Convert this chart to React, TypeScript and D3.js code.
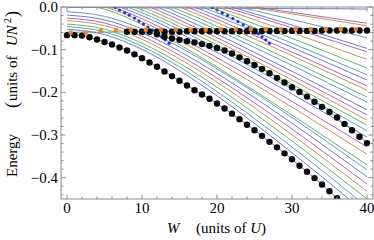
import React from "react";
import * as d3 from "d3";

// ---- data ----
const W_GRID = [0, 5, 10, 15, 20, 25, 30, 35, 40];

// levels entering from above the plot range (values at W_GRID)
const enteringLevels: number[][] = [
  [0.045, 0.0418, 0.034, 0.0236, 0.0121, 0, -0.0125, -0.0252, -0.038],
  [0.0462, 0.0428, 0.0343, 0.023, 0.0105, -0.0027, -0.0162, -0.03, -0.044],
  [0.0672, 0.062, 0.0488, 0.0314, 0.0121, -0.0082, -0.0292, -0.0505, -0.072],
  [0.0806, 0.0739, 0.057, 0.0349, 0.0103, -0.0157, -0.0424, -0.0695, -0.097],
  [0.0775, 0.0706, 0.0533, 0.0306, 0.0053, -0.0214, -0.0488, -0.0768, -0.105],
  [0.0806, 0.0729, 0.0536, 0.0282, 0, -0.0298, -0.0604, -0.0915, -0.123],
  [0.083, 0.0745, 0.053, 0.0249, -0.0064, -0.0395, -0.0735, -0.108, -0.143],
  [0.0816, 0.0725, 0.0497, 0.0197, -0.0136, -0.0488, -0.085, -0.1218, -0.159],
  [0.0773, 0.0679, 0.0444, 0.0134, -0.021, -0.0573, -0.0946, -0.1326, -0.171],
  [0.0734, 0.0636, 0.0391, 0.007, -0.0289, -0.0667, -0.1055, -0.145, -0.185],
  [0.0675, 0.0576, 0.0327, 0, -0.0364, -0.0748, -0.1142, -0.1544, -0.195],
  [0.0632, 0.0529, 0.0269, -0.0073, -0.0453, -0.0854, -0.1266, -0.1686, -0.211],
  [0.0575, 0.0469, 0.0203, -0.0146, -0.0535, -0.0946, -0.1367, -0.1796, -0.223],
  [0.0529, 0.0418, 0.0139, -0.0227, -0.0634, -0.1064, -0.1506, -0.1955, -0.241],
  [0.0467, 0.0354, 0.007, -0.0303, -0.0719, -0.1158, -0.1608, -0.2066, -0.253],
  [0.0405, 0.029, 0, -0.0381, -0.0804, -0.1251, -0.171, -0.2177, -0.265],
  [0.0344, 0.0226, -0.0069, -0.0457, -0.0888, -0.1344, -0.1812, -0.2288, -0.277],
  [0.0287, 0.0166, -0.0136, -0.0533, -0.0974, -0.1441, -0.1919, -0.2407, -0.29],
  [0.0232, 0.0108, -0.0203, -0.0612, -0.1067, -0.1547, -0.204, -0.2542, -0.305],
  [0.0184, 0.0053, -0.0275, -0.0707, -0.1187, -0.1694, -0.2214, -0.2744, -0.328],
  [0.0135, 0, -0.034, -0.0786, -0.1284, -0.1808, -0.2347, -0.2896, -0.345],
  [0.0094, -0.005, -0.0409, -0.0882, -0.1408, -0.1963, -0.2533, -0.3113, -0.37],
];

// levels visible from W = 0 (values at W_GRID)
const bandLevels: number[][] = [
  [-0.052, -0.0647, -0.0993, -0.149, -0.2082, -0.273, -0.3416, -0.4125, -0.485],
  [-0.046, -0.0583, -0.0921, -0.1405, -0.1982, -0.2614, -0.3282, -0.3973, -0.468],
  [-0.04, -0.052, -0.0848, -0.1318, -0.1879, -0.2493, -0.3142, -0.3814, -0.45],
  [-0.032, -0.0437, -0.0757, -0.1216, -0.1763, -0.2362, -0.2995, -0.365, -0.432],
  [-0.026, -0.0374, -0.0685, -0.1131, -0.1663, -0.2245, -0.2861, -0.3498, -0.415],
  [-0.019, -0.0301, -0.0604, -0.1039, -0.1557, -0.2124, -0.2724, -0.3345, -0.398],
  [-0.011, -0.0218, -0.0515, -0.0941, -0.1448, -0.2003, -0.2591, -0.3198, -0.382],
];

const flatTopLevel = [-0.001, -0.001, -0.002, -0.002, -0.003, -0.003, -0.004, -0.004, -0.005];
const flatRowLevel = [-0.059, -0.059, -0.058, -0.058, -0.057, -0.057, -0.056, -0.056, -0.055];

// ground state (black dots + line), W = 0..37
const groundW = [0,1,2,3,4,5,6,7,8,9,10,11,12,13,14,15,16,17,18,19,20,21,22,23,24,25,26,27,28,29,30,31,32,33,34,35,36,37];
const groundE = [-0.066,-0.066,-0.067,-0.071,-0.076,-0.082,-0.088,-0.095,-0.102,-0.111,-0.12,-0.13,-0.14,-0.151,-0.162,-0.173,-0.184,-0.195,-0.205,-0.215,-0.226,-0.238,-0.25,-0.263,-0.276,-0.289,-0.302,-0.316,-0.329,-0.343,-0.357,-0.372,-0.386,-0.401,-0.416,-0.432,-0.448,-0.464];

// flat row of black dots
const rowW = [8,9,10,11,12,13,14,15,16,17,18,19,20,21,22,23,24,25,26,27,28,29,30,31,32,33,34,35,36,37,38,39,40];
const rowE = [-0.058,-0.058,-0.058,-0.058,-0.058,-0.058,-0.058,-0.058,-0.057,-0.057,-0.057,-0.057,-0.057,-0.057,-0.057,-0.057,-0.057,-0.057,-0.056,-0.056,-0.056,-0.056,-0.056,-0.056,-0.056,-0.056,-0.055,-0.055,-0.055,-0.055,-0.055,-0.055,-0.055];

// second branch of black dots
const branchW = [12,13,14,15,16,17,18,19,20,21,22,23,24,25,26,27,28,29,30,31,32,33,34,35,36,37,38,39,40];
const branchE = [-0.064,-0.07,-0.074,-0.077,-0.08,-0.083,-0.087,-0.091,-0.096,-0.102,-0.109,-0.118,-0.127,-0.136,-0.145,-0.155,-0.166,-0.177,-0.188,-0.199,-0.21,-0.222,-0.234,-0.246,-0.259,-0.274,-0.289,-0.304,-0.319];
const branchLineW = [8, 9, 10, 11];
const branchLineE = [-0.058, -0.058, -0.059, -0.061];

// orange squares
const orangeW = [0.5,2.5,4.5,6.5,8.5,10.5,12.5,14.5,16.5,18.5,20.5,22.5,24.5,26.5,28.5,30.5,32.5,34.5,36.5,38.5];
const orangeE = [-0.06,-0.06,-0.056,-0.054,-0.053,-0.053,-0.053,-0.053,-0.053,-0.053,-0.052,-0.052,-0.052,-0.052,-0.052,-0.052,-0.052,-0.052,-0.052,-0.052];

// blue points (two steep branches)
const blueAW = [6.4,7.0,7.7,8.3,9.0,9.6,10.2,10.8,11.4,12.0,12.6,13.1,13.6];
const blueAE = [-0.001,-0.007,-0.013,-0.019,-0.026,-0.033,-0.04,-0.047,-0.054,-0.062,-0.07,-0.077,-0.085];
const blueBW = [19.4,20.0,20.7,21.4,22.1,22.8,23.5,24.2,24.9,25.5,26.0,26.5,27.0];
const blueBE = [-0.001,-0.007,-0.014,-0.02,-0.027,-0.034,-0.041,-0.048,-0.056,-0.063,-0.07,-0.077,-0.085];

const xMajor = [0, 10, 20, 30, 40];
const yMajor = [0, -0.1, -0.2, -0.3, -0.4];

const PALETTE = ["#5a6cc0", "#a855a8", "#b88a4a", "#55aa60", "#4f94b0"];

export default function App() {
  const left = 61, right = 373, top = 7, bottom = 199;
  const x = d3.scaleLinear().domain([-0.8, 40.8]).range([left, right]);
  const y = d3.scaleLinear().domain([-0.45, 0]).range([bottom, top]);

  const line = d3
    .line<[number, number]>()
    .x((d) => x(d[0]))
    .y((d) => y(d[1]))
    .curve(d3.curveMonotoneX);

  const gridSeries = [flatTopLevel, ...enteringLevels, flatRowLevel, ...bandLevels]
    .map((vals) => vals.map((v, i) => [W_GRID[i], v] as [number, number]))
    .sort((a, b) => b[8][1] - a[8][1]);

  const groundPts = groundW.map((w, i) => [w, groundE[i]] as [number, number]);
  const branchPts = [
    ...branchLineW.map((w, i) => [w, branchLineE[i]] as [number, number]),
    ...branchW.map((w, i) => [w, branchE[i]] as [number, number]),
  ];

  const xMinor = d3.range(0, 41, 2).filter((v) => v % 10 !== 0);
  const yMinor = d3.range(-44, 1, 2).map((v) => v / 100).filter((v) => Math.abs(Math.round(v * 100)) % 10 !== 0);
  const fmt = d3.format(".1f");
  const frame = "#8c8c8c";
  const font = "'Liberation Serif', 'Times New Roman', serif";
  const R = 3.2;

  return (
    <svg width={374} height={240} style={{ position: "absolute", left: 0, top: 0, background: "#fff" }} fontFamily={font}>
      <defs>
        <clipPath id="plot">
          <rect x={left} y={top} width={right - left} height={bottom - top} />
        </clipPath>
      </defs>
      <g clipPath="url(#plot)">
        {gridSeries.map((pts, i) => (
          <path key={i} d={line(pts) || ""} fill="none" stroke={PALETTE[i % 5]} strokeWidth={0.9} />
        ))}
        <path d={line(branchPts) || ""} fill="none" stroke="#4f94b0" strokeWidth={0.9} />
        <path d={line(groundPts) || ""} fill="none" stroke="#5a6cc0" strokeWidth={0.9} />
        {blueAW.map((w, i) => (
          <circle key={"ba" + i} cx={x(w)} cy={y(blueAE[i])} r={1.6} fill="#1f2fe8" />
        ))}
        {blueBW.map((w, i) => (
          <circle key={"bb" + i} cx={x(w)} cy={y(blueBE[i])} r={1.6} fill="#1f2fe8" />
        ))}
        {groundW.map((w, i) => (
          <circle key={"g" + i} cx={x(w)} cy={y(groundE[i])} r={R} fill="#0a0a0a" />
        ))}
        {rowW.map((w, i) => (
          <circle key={"r" + i} cx={x(w)} cy={y(rowE[i])} r={R} fill="#0a0a0a" />
        ))}
        {branchW.map((w, i) => (
          <circle key={"b" + i} cx={x(w)} cy={y(branchE[i])} r={R} fill="#0a0a0a" />
        ))}
        {orangeW.map((w, i) => (
          <rect key={"o" + i} x={x(w) - 2} y={y(orangeE[i]) - 2} width={4} height={4} fill="#f0821e" />
        ))}
      </g>
      {/* frame */}
      <rect x={left} y={top} width={right - left} height={bottom - top} fill="none" stroke={frame} strokeWidth={1} />
      {xMajor.map((v) => (
        <g key={"xm" + v}>
          <line x1={x(v)} x2={x(v)} y1={bottom} y2={bottom - 4.5} stroke={frame} />
          <line x1={x(v)} x2={x(v)} y1={top} y2={top + 4.5} stroke={frame} />
          <text x={x(v)} y={213} fontSize={15} textAnchor="middle" fill="#000">{v}</text>
        </g>
      ))}
      {xMinor.map((v) => (
        <g key={"xn" + v}>
          <line x1={x(v)} x2={x(v)} y1={bottom} y2={bottom - 2.5} stroke={frame} />
          <line x1={x(v)} x2={x(v)} y1={top} y2={top + 2.5} stroke={frame} />
        </g>
      ))}
      {yMajor.map((v) => (
        <g key={"ym" + v}>
          <line x1={left} x2={left + 4.5} y1={y(v)} y2={y(v)} stroke={frame} />
          <line x1={right} x2={right - 4.5} y1={y(v)} y2={y(v)} stroke={frame} />
          <text x={58} y={y(v) + 5} fontSize={15} textAnchor="end" fill="#000">{fmt(v)}</text>
        </g>
      ))}
      {yMinor.map((v) => (
        <g key={"yn" + v}>
          <line x1={left} x2={left + 2.5} y1={y(v)} y2={y(v)} stroke={frame} />
          <line x1={right} x2={right - 2.5} y1={y(v)} y2={y(v)} stroke={frame} />
        </g>
      ))}
      {/* axis labels */}
      <text x={167} y={233} fontSize={15} fontStyle="italic" fill="#000">W</text>
      <text x={196} y={233} fontSize={15} fill="#000">
        (units of <tspan fontStyle="italic">U</tspan>)
      </text>
      <text transform="translate(17,177) rotate(-90)" fontSize={15} fill="#000">Energy</text>
      <text transform="translate(18,108) rotate(-90)" fontSize={18} fill="#000">(</text>
      <text transform="translate(17,101) rotate(-90)" fontSize={15} fill="#000">units of</text>
      <text transform="translate(17,46) rotate(-90)" fontSize={15} fontStyle="italic" fill="#000">UN</text>
      <text transform="translate(11,23) rotate(-90)" fontSize={10} fill="#000">2</text>
      <text transform="translate(18,17) rotate(-90)" fontSize={18} fill="#000">)</text>
    </svg>
  );
}
